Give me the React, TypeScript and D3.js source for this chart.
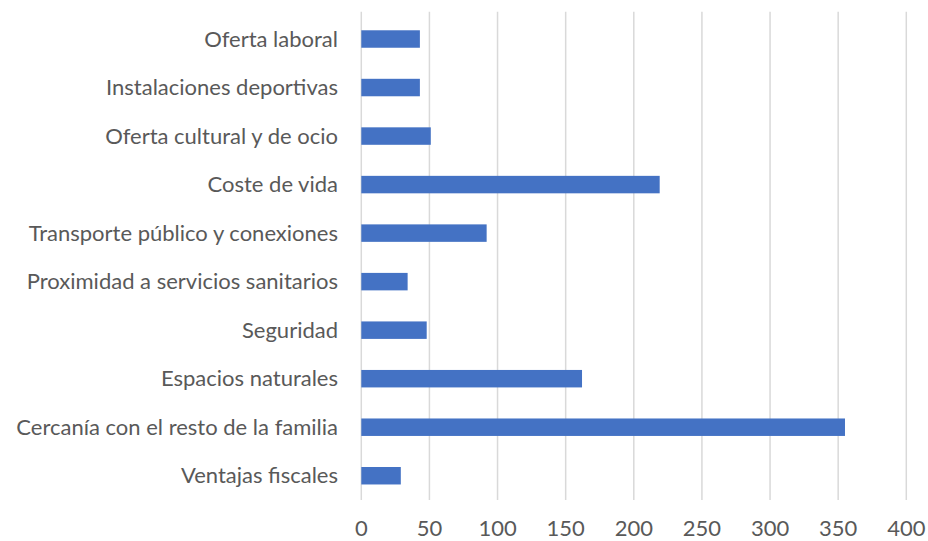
import React from "react";
import * as d3 from "d3";

const categories = [
  "Oferta laboral",
  "Instalaciones deportivas",
  "Oferta cultural y de ocio",
  "Coste de vida",
  "Transporte público y conexiones",
  "Proximidad a servicios sanitarios",
  "Seguridad",
  "Espacios naturales",
  "Cercanía con el resto de la familia",
  "Ventajas fiscales",
];
const values = [43, 43, 51, 219, 92, 34, 48, 162, 355, 29];
const xTicks = [0, 50, 100, 150, 200, 250, 300, 350, 400];

const W = 928;
const H = 541;
const left = 361.3;
const right = 906.3;
const top = 14.75;
const bottom = 500;
const font = "Lato, 'Open Sans', sans-serif";

export default function App() {
  const x = d3.scaleLinear().domain([0, 400]).range([left, right]);
  const y = d3
    .scaleBand<string>()
    .domain(categories)
    .range([top, bottom])
    .paddingInner(0.64)
    .paddingOuter(0.32);

  return (
    <svg
      width={W}
      height={H}
      style={{ position: "absolute", left: 0, top: 0, background: "#fff" }}
    >
      <rect width={W} height={H} fill="#fff" />
      {xTicks.map((t) => (
        <line
          key={t}
          x1={x(t)}
          x2={x(t)}
          y1={top - 3}
          y2={bottom}
          stroke="#d9d9d9"
          strokeWidth={1.5}
        />
      ))}
      {categories.map((c, i) => (
        <rect
          key={c}
          x={x(0)}
          y={y(c)!}
          width={x(values[i]) - x(0)}
          height={y.bandwidth()}
          fill="#4472c4"
        />
      ))}
      {categories.map((c) => (
        <text
          key={c}
          x={338}
          y={y(c)! + y.bandwidth() / 2}
          dy="0.35em"
          textAnchor="end"
          fontFamily={font}
          fontSize={22}
          fill="#595959"
        >
          {c}
        </text>
      ))}
      {xTicks.map((t) => (
        <text
          key={t}
          x={x(t)}
          y={535.5}
          textAnchor="middle"
          fontFamily={font}
          fontSize={22}
          fill="#595959"
        >
          {t}
        </text>
      ))}
    </svg>
  );
}
